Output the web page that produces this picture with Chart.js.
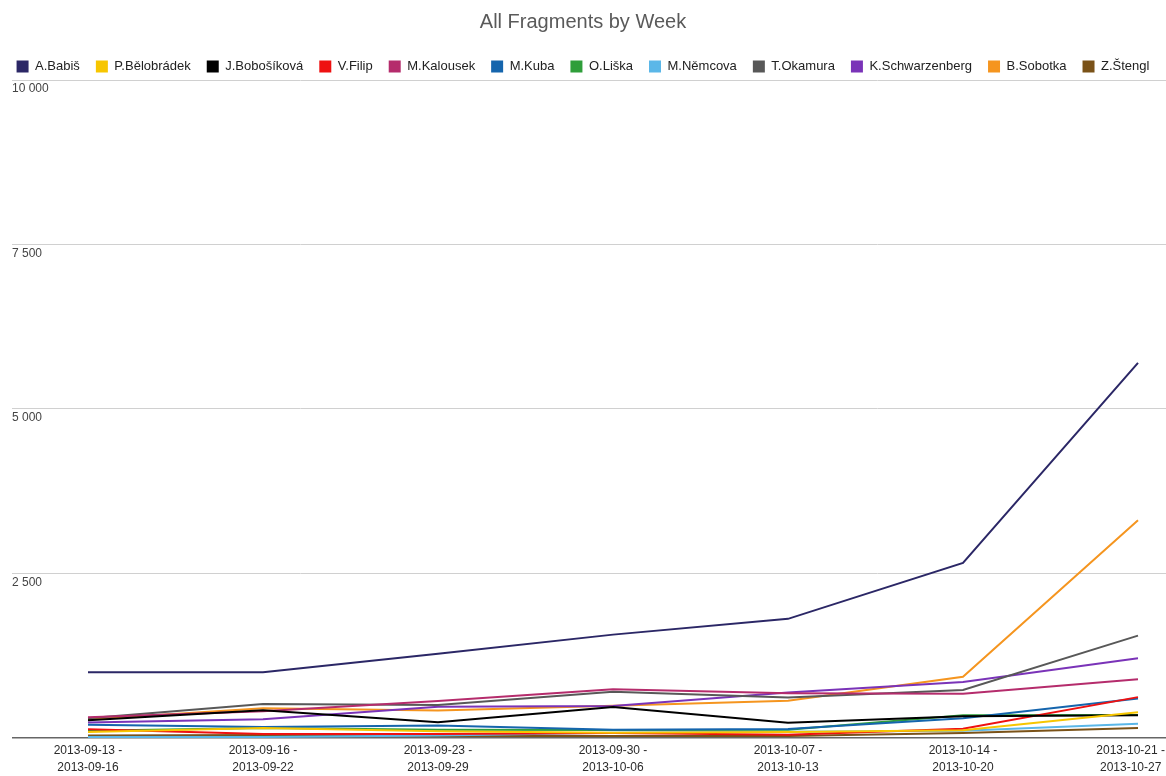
<!DOCTYPE html>
<html>
<head>
<meta charset="utf-8">
<script src="https://cdn.jsdelivr.net/npm/chart.js@4.4.1/dist/chart.umd.min.js"></script>
<style>
  html, body { margin: 0; padding: 0; background: #fff; }
  #wrap { width: 1166px; height: 776px; position: relative; }
</style>
</head>
<body>
<div id="wrap"><canvas id="c"></canvas></div>
<script>
const weeks = [
  ["2013-09-13 -", "2013-09-16"],
  ["2013-09-16 -", "2013-09-22"],
  ["2013-09-23 -", "2013-09-29"],
  ["2013-09-30 -", "2013-10-06"],
  ["2013-10-07 -", "2013-10-13"],
  ["2013-10-14 -", "2013-10-20"],
  ["2013-10-21 -", "2013-10-27"]
];
const names = ["A.Babiš", "P.Bělobrádek", "J.Bobošíková", "V.Filip", "M.Kalousek", "M.Kuba",
  "O.Liška", "M.Němcova", "T.Okamura", "K.Schwarzenberg", "B.Sobotka", "Z.Štengl"];

const babis         = [1000, 1000, 1280, 1570, 1810, 2660, 5700];
const belobradek    = [90, 150, 100, 80, 90, 115, 390];
const bobosikova    = [270, 420, 240, 470, 230, 330, 345];
const filip         = [130, 60, 60, 75, 50, 140, 620];
const kalousek      = [315, 405, 560, 740, 680, 670, 890];
const kuba          = [200, 165, 190, 125, 135, 300, 600];
const liska         = [110, 150, 125, 120, 125, 345, 350];
const nemcova       = [15, 15, 35, 80, 95, 110, 215];
const okamura       = [300, 515, 500, 700, 615, 730, 1555];
const schwarzenberg = [235, 285, 475, 485, 690, 850, 1210];
const sobotka       = [280, 450, 415, 490, 565, 930, 3310];
const stengl        = [35, 45, 30, 30, 30, 75, 150];

const yTicks = [0, 2500, 5000, 7500, 10000];

const series = [babis, belobradek, bobosikova, filip, kalousek, kuba, liska, nemcova, okamura, schwarzenberg, sobotka, stengl];
const colors = ["#2b2766", "#f7c600", "#000000", "#ee1111", "#b52c6c", "#1565ad",
  "#2f9e3a", "#5bb7e8", "#585858", "#7a33b8", "#f5951f", "#7a5218"];

const FONT = "'Liberation Sans', Arial, sans-serif";

const datasets = series.map((vals, i) => ({
  label: names[i],
  data: vals.map((v, j) => ({ x: j, y: v })),
  borderColor: colors[i],
  backgroundColor: colors[i],
  borderWidth: 2,
  pointRadius: 0,
  tension: 0,
  fill: false
}));

// keep the edge category label inside the canvas (as the original chart does)
const keepLabelsInside = {
  id: 'keepLabelsInside',
  beforeDraw(chart) {
    const sx = chart.scales.x;
    const items = sx.getLabelItems();
    const ctx = chart.ctx;
    items.forEach(it => {
      ctx.save();
      ctx.font = it.font.string;
      const lines = Array.isArray(it.label) ? it.label : [it.label];
      const w = Math.max(...lines.map(l => ctx.measureText(l).width));
      ctx.restore();
      const x = it.options.translation[0];
      const maxX = chart.width - 1 - w / 2;
      if (x > maxX) it.options.translation[0] = maxX;
    });
  }
};

new Chart(document.getElementById('c'), {
  type: 'line',
  data: { datasets },
  plugins: [keepLabelsInside],
  options: {
    responsive: true,
    maintainAspectRatio: false,
    animation: false,
    layout: { padding: { left: 0, right: 0, top: 0, bottom: -4 } },
    plugins: {
      title: {
        display: true,
        text: 'All Fragments by Week',
        color: '#5a5a5a',
        font: { family: FONT, size: 20, weight: 'normal' },
        padding: { top: 10, bottom: 10 }
      },
      legend: {
        display: true,
        position: 'top',
        maxHeight: 36,
        labels: {
          boxWidth: 12,
          boxHeight: 12,
          padding: 16,
          color: '#222',
          font: { family: FONT, size: 13 },
          generateLabels: (chart) => chart.data.datasets.map((d, i) => ({
            text: d.label, fillStyle: d.borderColor, strokeStyle: d.borderColor,
            lineWidth: 0, datasetIndex: i, hidden: false, fontColor: '#222'
          }))
        }
      },
      tooltip: { enabled: false }
    },
    scales: {
      x: {
        type: 'linear',
        min: -0.4343,
        max: 6.16,
        grid: { display: false, drawTicks: false },
        border: { display: false },
        afterBuildTicks: (axis) => { axis.ticks = weeks.map((w, i) => ({ value: i })); },
        afterFit: (axis) => { axis.paddingLeft = 0; axis.paddingRight = 0; },
        ticks: {
          autoSkip: false,
          maxRotation: 0,
          padding: 4,
          color: '#2a2a2a',
          font: { family: FONT, size: 12, lineHeight: 1.42 },
          callback: (v) => weeks[v] || ''
        }
      },
      y: {
        min: 0,
        max: 10000,
        afterBuildTicks: (axis) => { axis.ticks = yTicks.map(v => ({ value: v })); },
        afterFit: (axis) => { axis.width = 12; },
        grid: {
          drawTicks: false,
          color: (ctx) => ctx.tick && ctx.tick.value === 0 ? '#666' : '#d0d0d0',
          lineWidth: (ctx) => ctx.tick && ctx.tick.value === 0 ? 1.5 : 1
        },
        border: { display: false },
        ticks: {
          mirror: true,
          padding: 0,
          labelOffset: 9,
          color: '#444',
          font: { family: FONT, size: 12 },
          callback: (v) => v === 0 ? '' : String(v).replace(/\B(?=(\d{3})+(?!\d))/g, ' ')
        }
      }
    }
  }
});
</script>
</body>
</html>
